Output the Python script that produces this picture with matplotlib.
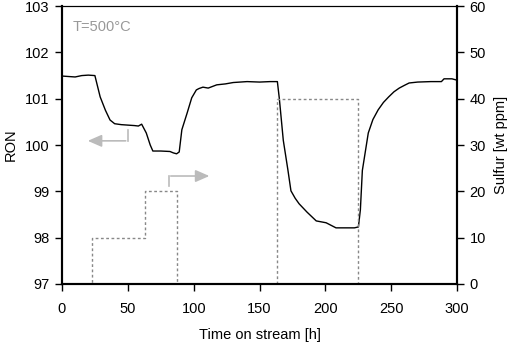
import matplotlib

matplotlib.use("Agg")
import matplotlib.pyplot as plt
import numpy as np

plt.rcParams["font.family"] = ["Liberation Sans", "DejaVu Sans"]
plt.rcParams["font.size"] = 10.5

# RON trace
TIME_H = [0, 5, 10, 15, 20, 25, 29, 33, 36.5, 40, 45, 50, 55, 58, 60.5, 64, 67, 69, 75, 82,
          84.5, 87, 89, 91, 95, 98.5, 102, 104, 107, 111, 117.5, 124, 130, 140.5, 150, 158, 163.5,
          165, 168, 171.5, 173.8, 177, 180, 186, 193, 200.5, 208, 215, 222, 225, 226.5, 228,
          232.5, 236, 240, 244, 248, 252, 256, 260, 263.5, 270, 280, 288, 290, 296, 300]
RON = [101.49, 101.48, 101.47, 101.50, 101.51, 101.50, 101.04, 100.75, 100.54, 100.46, 100.44,
       100.43, 100.42, 100.41, 100.45, 100.26, 100.0, 99.87, 99.87, 99.86,
       99.83, 99.81, 99.85, 100.33, 100.69, 101.02, 101.19, 101.22, 101.25, 101.23, 101.30, 101.32,
       101.35, 101.37, 101.36, 101.37, 101.37,
       101.0, 100.1, 99.46, 99.01, 98.85, 98.73, 98.55, 98.36, 98.32, 98.21, 98.21, 98.21, 98.23,
       98.6, 99.45,
       100.26, 100.55, 100.76, 100.92, 101.04, 101.15, 101.23, 101.29, 101.34, 101.36, 101.37,
       101.37, 101.43, 101.43, 101.40]

# sulfur feed steps
SULFUR_T = [0, 23, 23, 63, 63, 87, 87, 163.5, 163.5, 225, 225, 300]
SULFUR_PPM = [0, 0, 10, 10, 20, 20, 0, 0, 40, 40, 0, 0]

fig = plt.figure(figsize=(5.12, 3.42), dpi=100)
ax = fig.add_axes([0.121, 0.170, 0.772, 0.812])
ax2 = ax.twinx()

ax.plot(TIME_H, RON, color="black", linewidth=1.0, zorder=3)
ax2.plot(SULFUR_T, SULFUR_PPM, color="#888888", linewidth=1.0,
         linestyle=(0, (2, 1.8)), zorder=2)

ax.set_xlim(0, 300)
ax.set_ylim(97, 103)
ax2.set_ylim(0, 60)
ax.set_xticks(np.arange(0, 301, 50))
ax.set_yticks(np.arange(97, 104, 1))
ax2.set_yticks(np.arange(0, 61, 10))

ax.set_xlabel("Time on stream [h]", labelpad=9)
ax.set_ylabel("RON", labelpad=5)
ax2.set_ylabel("Sulfur [wt ppm]", labelpad=6)

for a in (ax, ax2):
    a.tick_params(direction="out", length=5, width=1.0, labelsize=10.5, pad=4)
    for side in ("left", "bottom", "right"):
        a.spines[side].set_linewidth(1.5)
    a.spines["top"].set_linewidth(0.8)
ax.tick_params(axis="x", pad=8)

ax.text(8, 102.55, "T=500°C", color="#999999", fontsize=10.5, va="center")

arrow_kw = dict(arrowstyle="-|>,head_length=0.8,head_width=0.35", color="#bbbbbb", lw=1.2)
ax.plot([50, 50], [100.33, 100.09], color="#bbbbbb", lw=1.2)
ax.annotate("", xy=(17.5, 100.09), xytext=(50.5, 100.09), arrowprops=arrow_kw)
ax.plot([81, 81], [99.12, 99.33], color="#bbbbbb", lw=1.2)
ax.annotate("", xy=(114, 99.33), xytext=(80.5, 99.33), arrowprops=arrow_kw)

fig.savefig("out.png", dpi=100)
